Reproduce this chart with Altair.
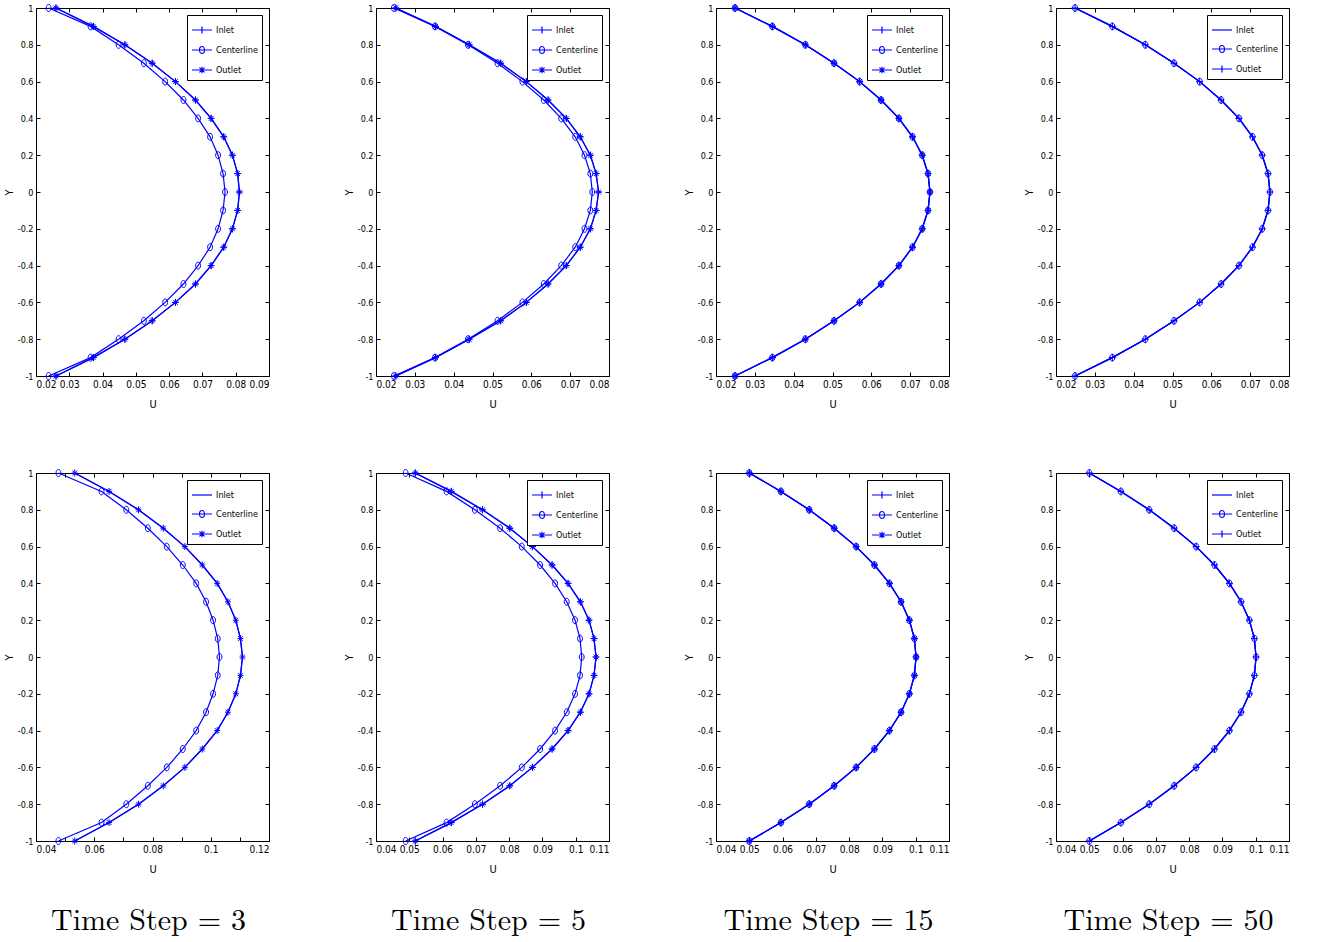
import altair as alt
import pandas as pd

BLUE = "#0000ff"
SANS = "Liberation Sans Narrow, Arial Narrow, DejaVu Sans Condensed, Liberation Sans, sans-serif"
SERIF = "Latin Modern Roman, CMU Serif, DejaVu Serif, Liberation Serif, serif"

Y_VALUES = [1.0, 0.9, 0.8, 0.7, 0.6, 0.5, 0.4, 0.3, 0.2, 0.1, 0.0,
            -0.1, -0.2, -0.3, -0.4, -0.5, -0.6, -0.7, -0.8, -0.9, -1.0]
SERIES = ["Inlet", "Centerline", "Outlet"]
TIME_STEPS = [3, 5, 15, 50]

# ---- top row ----
TOP_3_INLET = [0.0260, 0.0372, 0.0467, 0.0549, 0.0619, 0.0679, 0.0726, 0.0764, 0.0790, 0.0806, 0.0811,
               0.0806, 0.0790, 0.0764, 0.0726, 0.0679, 0.0619, 0.0549, 0.0467, 0.0372, 0.0260]
TOP_3_CENTER = [0.0238, 0.0364, 0.0448, 0.0524, 0.0588, 0.0643, 0.0687, 0.0723, 0.0747, 0.0762, 0.0768,
                0.0762, 0.0747, 0.0723, 0.0687, 0.0643, 0.0588, 0.0524, 0.0448, 0.0364, 0.0238]
TOP_3_OUTLET = [0.0260, 0.0372, 0.0467, 0.0549, 0.0619, 0.0679, 0.0726, 0.0764, 0.0790, 0.0806, 0.0811,
                0.0806, 0.0790, 0.0764, 0.0726, 0.0679, 0.0619, 0.0549, 0.0467, 0.0372, 0.0260]

TOP_5_INLET = [0.0251, 0.0353, 0.0440, 0.0521, 0.0587, 0.0643, 0.0690, 0.0726, 0.0752, 0.0767, 0.0773,
               0.0767, 0.0752, 0.0726, 0.0690, 0.0643, 0.0587, 0.0521, 0.0440, 0.0353, 0.0251]
TOP_5_CENTER = [0.0246, 0.0352, 0.0437, 0.0513, 0.0577, 0.0632, 0.0677, 0.0713, 0.0737, 0.0752, 0.0757,
                0.0752, 0.0737, 0.0713, 0.0677, 0.0632, 0.0577, 0.0513, 0.0437, 0.0352, 0.0246]
TOP_5_OUTLET = [0.0251, 0.0353, 0.0440, 0.0521, 0.0587, 0.0643, 0.0690, 0.0726, 0.0752, 0.0767, 0.0773,
                0.0767, 0.0752, 0.0726, 0.0690, 0.0643, 0.0587, 0.0521, 0.0440, 0.0353, 0.0251]

TOP_15_INLET = [0.0249, 0.0345, 0.0430, 0.0504, 0.0570, 0.0625, 0.0671, 0.0706, 0.0731, 0.0746, 0.0751,
                0.0746, 0.0731, 0.0706, 0.0671, 0.0625, 0.0570, 0.0504, 0.0430, 0.0345, 0.0249]
TOP_15_CENTER = [0.0249, 0.0345, 0.0430, 0.0504, 0.0570, 0.0625, 0.0671, 0.0706, 0.0731, 0.0746, 0.0751,
                 0.0746, 0.0731, 0.0706, 0.0671, 0.0625, 0.0570, 0.0504, 0.0430, 0.0345, 0.0249]
TOP_15_OUTLET = [0.0249, 0.0345, 0.0430, 0.0504, 0.0570, 0.0625, 0.0671, 0.0706, 0.0731, 0.0746, 0.0751,
                 0.0746, 0.0731, 0.0706, 0.0671, 0.0625, 0.0570, 0.0504, 0.0430, 0.0345, 0.0249]

TOP_50_INLET = [0.0249, 0.0345, 0.0430, 0.0504, 0.0570, 0.0625, 0.0671, 0.0706, 0.0731, 0.0746, 0.0751,
                0.0746, 0.0731, 0.0706, 0.0671, 0.0625, 0.0570, 0.0504, 0.0430, 0.0345, 0.0249]
TOP_50_CENTER = [0.0249, 0.0345, 0.0430, 0.0504, 0.0570, 0.0625, 0.0671, 0.0706, 0.0731, 0.0746, 0.0751,
                 0.0746, 0.0731, 0.0706, 0.0671, 0.0625, 0.0570, 0.0504, 0.0430, 0.0345, 0.0249]
TOP_50_OUTLET = [0.0249, 0.0345, 0.0430, 0.0504, 0.0570, 0.0625, 0.0671, 0.0706, 0.0731, 0.0746, 0.0751,
                 0.0746, 0.0731, 0.0706, 0.0671, 0.0625, 0.0570, 0.0504, 0.0430, 0.0345, 0.0249]

# ---- bottom row ----
BOT_3_INLET = [0.0533, 0.0651, 0.0752, 0.0837, 0.0911, 0.0971, 0.1022, 0.1059, 0.1086, 0.1102, 0.1109,
               0.1102, 0.1086, 0.1059, 0.1022, 0.0971, 0.0911, 0.0837, 0.0752, 0.0651, 0.0533]
BOT_3_CENTER = [0.0477, 0.0625, 0.0710, 0.0784, 0.0849, 0.0904, 0.0950, 0.0984, 0.1008, 0.1024, 0.1030,
                0.1024, 0.1008, 0.0984, 0.0950, 0.0904, 0.0849, 0.0784, 0.0710, 0.0625, 0.0477]
BOT_3_OUTLET = [0.0533, 0.0651, 0.0752, 0.0837, 0.0911, 0.0971, 0.1022, 0.1059, 0.1086, 0.1102, 0.1109,
                0.1102, 0.1086, 0.1059, 0.1022, 0.0971, 0.0911, 0.0837, 0.0752, 0.0651, 0.0533]

BOT_5_INLET = [0.0518, 0.0626, 0.0720, 0.0802, 0.0870, 0.0929, 0.0977, 0.1014, 0.1040, 0.1055, 0.1061,
               0.1055, 0.1040, 0.1014, 0.0977, 0.0929, 0.0870, 0.0802, 0.0720, 0.0626, 0.0518]
BOT_5_CENTER = [0.0489, 0.0612, 0.0697, 0.0773, 0.0838, 0.0893, 0.0938, 0.0973, 0.0998, 0.1013, 0.1018,
                0.1013, 0.0998, 0.0973, 0.0938, 0.0893, 0.0838, 0.0773, 0.0697, 0.0612, 0.0489]
BOT_5_OUTLET = [0.0518, 0.0626, 0.0720, 0.0802, 0.0870, 0.0929, 0.0977, 0.1014, 0.1040, 0.1055, 0.1061,
                0.1055, 0.1040, 0.1014, 0.0977, 0.0929, 0.0870, 0.0802, 0.0720, 0.0626, 0.0518]

BOT_15_INLET = [0.0500, 0.0595, 0.0680, 0.0755, 0.0821, 0.0876, 0.0921, 0.0956, 0.0981, 0.0996, 0.1001,
                0.0996, 0.0981, 0.0956, 0.0921, 0.0876, 0.0821, 0.0755, 0.0680, 0.0595, 0.0500]
BOT_15_CENTER = [0.0500, 0.0595, 0.0680, 0.0755, 0.0821, 0.0876, 0.0921, 0.0956, 0.0981, 0.0996, 0.1001,
                 0.0996, 0.0981, 0.0956, 0.0921, 0.0876, 0.0821, 0.0755, 0.0680, 0.0595, 0.0500]
BOT_15_OUTLET = [0.0500, 0.0595, 0.0680, 0.0755, 0.0821, 0.0876, 0.0921, 0.0956, 0.0981, 0.0996, 0.1001,
                 0.0996, 0.0981, 0.0956, 0.0921, 0.0876, 0.0821, 0.0755, 0.0680, 0.0595, 0.0500]

BOT_50_INLET = [0.0500, 0.0595, 0.0680, 0.0755, 0.0821, 0.0876, 0.0921, 0.0956, 0.0981, 0.0996, 0.1001,
                0.0996, 0.0981, 0.0956, 0.0921, 0.0876, 0.0821, 0.0755, 0.0680, 0.0595, 0.0500]
BOT_50_CENTER = [0.0500, 0.0595, 0.0680, 0.0755, 0.0821, 0.0876, 0.0921, 0.0956, 0.0981, 0.0996, 0.1001,
                 0.0996, 0.0981, 0.0956, 0.0921, 0.0876, 0.0821, 0.0755, 0.0680, 0.0595, 0.0500]
BOT_50_OUTLET = [0.0500, 0.0595, 0.0680, 0.0755, 0.0821, 0.0876, 0.0921, 0.0956, 0.0981, 0.0996, 0.1001,
                 0.0996, 0.0981, 0.0956, 0.0921, 0.0876, 0.0821, 0.0755, 0.0680, 0.0595, 0.0500]

Y_TICKS = [-1.0, -0.8, -0.6, -0.4, -0.2, 0.0, 0.2, 0.4, 0.6, 0.8, 1.0]
TOP_X_TICKS_A = [0.02, 0.03, 0.04, 0.05, 0.06, 0.07, 0.08, 0.09]
TOP_X_TICKS_B = [0.02, 0.03, 0.04, 0.05, 0.06, 0.07, 0.08]
BOT_X_TICKS_A = [0.04, 0.05, 0.06, 0.07, 0.08, 0.09, 0.1, 0.11, 0.12]
BOT_X_TICKS_B = [0.04, 0.05, 0.06, 0.07, 0.08, 0.09, 0.1, 0.11]

# marker type per series, per panel (None = line only)
M_STD = {"Inlet": "plus", "Centerline": "ellipse", "Outlet": "asterisk"}
M_NOIN_PLUS = {"Inlet": None, "Centerline": "ellipse", "Outlet": "plus"}
M_NOIN_STAR = {"Inlet": None, "Centerline": "ellipse", "Outlet": "asterisk"}

MARKER_PATHS = {
    "plus": "M-1,0L1,0M0,-1L0,1",
    "ellipse": "M0.7,0A0.7,1,0,1,1,-0.7,0A0.7,1,0,1,1,0.7,0",
    "asterisk": "M-0.85,0L0.85,0M0,-1L0,1M-0.65,-0.7L0.65,0.7M-0.65,0.7L0.65,-0.7",
}
LEGEND_PATHS = {
    None: "M-1,0L1,0",
    "plus": "M-1,0L1,0M0,-0.35L0,0.35",
    "ellipse": "M-1,0L1,0M0.25,0A0.25,0.35,0,1,1,-0.25,0A0.25,0.35,0,1,1,0.25,0",
    "asterisk": "M-1,0L1,0M0,-0.32L0,0.32M-0.26,-0.24L0.26,0.24M-0.26,0.24L0.26,-0.24",
}

PW, PH = 233, 368
LABEL_EXPR = "datum.value < 0 ? '-' + format(-datum.value, '~g') : format(datum.value, '~g')"


def panel(inlet, center, outlet, xdom, xticks, markers, title=None):
    rows = []
    for name, vals in zip(SERIES, [inlet, center, outlet]):
        for i, (u, y) in enumerate(zip(vals, Y_VALUES)):
            rows.append({"U": u, "Y": y, "series": name, "idx": i})
    df = pd.DataFrame(rows)

    xs = alt.Scale(domain=xdom, nice=False, zero=False)
    ys = alt.Scale(domain=[-1, 1], nice=False, zero=False)
    common = dict(domain=False, grid=False, tickSize=4, offset=-4, tickColor="black",
                  tickWidth=1)
    ax_bottom = alt.Axis(orient="bottom", values=xticks, format="~g", title="U",
                         labelPadding=3, titlePadding=9, **common)
    ax_left = alt.Axis(orient="left", values=Y_TICKS, labelExpr=LABEL_EXPR, title="Y",
                       labelPadding=3, titlePadding=3, labelFontSize=9, **common)
    ax_top = alt.Axis(orient="top", values=xticks, labels=False, title=None, **common)
    ax_right = alt.Axis(orient="right", values=Y_TICKS, labels=False, title=None, **common)

    line = alt.Chart(df).mark_line(color=BLUE, strokeWidth=1.2).encode(
        x=alt.X("U:Q", scale=xs, axis=ax_bottom),
        y=alt.Y("Y:Q", scale=ys, axis=ax_left),
        detail="series:N",
        order="idx:Q",
    )
    mk_series = [s for s in SERIES if markers[s]]
    pts = alt.Chart(df).transform_filter(
        alt.FieldOneOfPredicate(field="series", oneOf=mk_series)
    ).mark_point(filled=False, color=BLUE, strokeWidth=1, size=49, opacity=1).encode(
        x=alt.X("U:Q", scale=xs, axis=ax_top),
        y=alt.Y("Y:Q", scale=ys, axis=ax_right),
        shape=alt.Shape("series:N",
                        scale=alt.Scale(domain=mk_series,
                                        range=[MARKER_PATHS[markers[s]] for s in mk_series]),
                        legend=None),
    )
    leg = alt.Chart(df).transform_filter("false").mark_point(
        filled=False, color=BLUE, strokeWidth=1, opacity=1
    ).encode(
        shape=alt.Shape("series:N",
                        scale=alt.Scale(domain=SERIES,
                                        range=[LEGEND_PATHS[markers[s]] for s in SERIES]),
                        legend=alt.Legend(title=None, orient="top-right", offset=7, padding=4,
                                          fillColor="white", strokeColor="black",
                                          symbolSize=400, symbolStrokeWidth=1.2,
                                          symbolStrokeColor=BLUE, symbolFillColor="transparent",
                                          labelFontSize=9, labelFont=SANS, labelColor="black",
                                          rowPadding=3, labelOffset=3)),
    )
    ch = alt.layer(line, pts, leg).resolve_scale(shape="independent").resolve_axis(
        x="independent", y="independent").resolve_legend(shape="independent")
    props = dict(width=PW, height=PH)
    if title is not None:
        props["title"] = alt.TitleParams(text=title, orient="bottom", anchor="middle",
                                         font=SERIF, fontSize=30, fontWeight="normal",
                                         color="black", offset=32, dx=-4)
    return ch.properties(**props)


top = [
    panel(TOP_3_INLET, TOP_3_CENTER, TOP_3_OUTLET, [0.02, 0.09], TOP_X_TICKS_A, M_STD),
    panel(TOP_5_INLET, TOP_5_CENTER, TOP_5_OUTLET, [0.02, 0.08], TOP_X_TICKS_B, M_STD),
    panel(TOP_15_INLET, TOP_15_CENTER, TOP_15_OUTLET, [0.02, 0.08], TOP_X_TICKS_B, M_STD),
    panel(TOP_50_INLET, TOP_50_CENTER, TOP_50_OUTLET, [0.02, 0.08], TOP_X_TICKS_B, M_NOIN_PLUS),
]
bottom = [
    panel(BOT_3_INLET, BOT_3_CENTER, BOT_3_OUTLET, [0.04, 0.12], BOT_X_TICKS_A, M_NOIN_STAR,
          f"Time Step = {TIME_STEPS[0]}"),
    panel(BOT_5_INLET, BOT_5_CENTER, BOT_5_OUTLET, [0.04, 0.11], BOT_X_TICKS_B, M_STD,
          f"Time Step = {TIME_STEPS[1]}"),
    panel(BOT_15_INLET, BOT_15_CENTER, BOT_15_OUTLET, [0.04, 0.11], BOT_X_TICKS_B, M_STD,
          f"Time Step = {TIME_STEPS[2]}"),
    panel(BOT_50_INLET, BOT_50_CENTER, BOT_50_OUTLET, [0.04, 0.11], BOT_X_TICKS_B, M_NOIN_PLUS,
          f"Time Step = {TIME_STEPS[3]}"),
]

chart = alt.concat(*top, *bottom, columns=4, spacing={"row": 97, "column": 107},
                   bounds="flush").resolve_scale(
    shape="independent").resolve_legend(shape="independent").properties(
    padding={"left": 2, "top": 2, "right": 5, "bottom": 5}, background="white"
).configure_view(stroke="black", strokeWidth=1).configure_axis(
    labelFont=SANS, titleFont=SANS, labelFontSize=10, titleFontSize=11,
    labelColor="black", titleColor="black", titleFontWeight="normal"
)

chart.save("out.html", embed_options={"renderer": "svg", "actions": False})
